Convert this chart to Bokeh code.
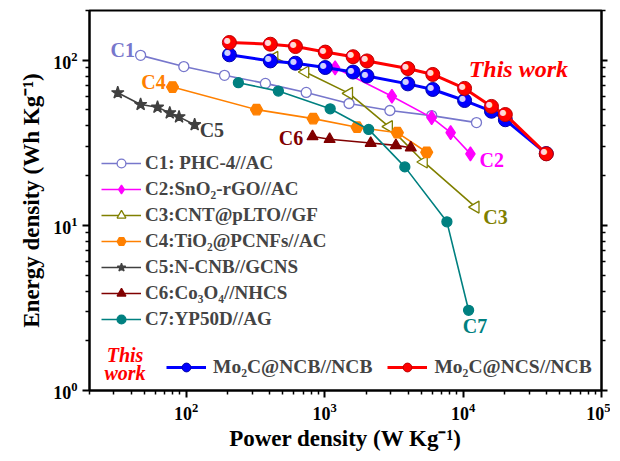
from bokeh.plotting import figure
from bokeh.models import LogAxis, Legend, LegendItem, Label, FixedTicker, ColumnDataSource
from bokeh.embed import file_html
from bokeh.resources import INLINE
from bokeh.core.properties import value
import math

# ---------------- data ----------------
c1_p = [46.8, 96, 189, 373, 736, 1500, 2960, 5930, 12500]
c1_e = [107, 91.5, 81, 72.4, 63.8, 54.7, 49.6, 46.2, 41.9]
c2_p = [1190, 3060, 5930, 8130, 11300]
c2_e = [90, 60.5, 44.9, 36.4, 27.1]
c3_p = [433, 724, 1500, 2910, 5200, 12300]
c3_e = [104, 84.9, 63, 39.6, 24.2, 12.9]
c4_p = [79.6, 322, 826, 1715, 3350, 5460]
c4_e = [68.8, 50.2, 44.3, 39.3, 36.4, 27.7]
c5_p = [32, 46.8, 62, 76, 88.7, 115]
c5_e = [63.5, 53.9, 51.9, 48, 45.4, 40.7]
c6_p = [817, 1086, 2150, 3270, 4190]
c6_e = [34.5, 33.2, 31.5, 30.5, 29.5]
c7_p = [238, 463, 1096, 2080, 3795, 7640, 10960]
c7_e = [73.1, 65, 50.8, 38.1, 22.6, 10.5, 3.06]
tw_p = [205, 405, 615, 1010, 1604, 2022, 3990, 6040, 10250, 16040, 20200, 39900]
ncb_e = [107.8, 99, 95.9, 90.3, 84.8, 80.2, 71.9, 66.5, 57, 49.1, 43.6, 27.2]
ncs_e = [128, 125, 121, 112, 105, 99, 89, 82, 67.5, 52.5, 46.9, 27.1]

series_names = ["C1: PHC-4//AC", "C2:SnO\u2082-rGO//AC", "C3:CNT@pLTO//GF",
                "C4:TiO\u2082@PCNFs//AC", "C5:N-CNB//GCNS", "C6:Co\u2083O\u2084//NHCS",
                "C7:YP50D//AG"]
this_names = ["Mo\u2082C@NCB//NCB", "Mo\u2082C@NCS//NCB"]
x_ticks = [100, 1000, 10000, 100000]
y_ticks = [1, 10, 100]

FONT = "Liberation Serif"

p = figure(width=610, height=453, x_axis_type="log", y_axis_type="log",
           x_range=(20, 1e5), y_range=(1, 200),
           output_backend="svg", toolbar_location=None,
           min_border_left=89, min_border_right=9, min_border_top=10, min_border_bottom=63)
p.xgrid.visible = False
p.ygrid.visible = False
p.outline_line_color = "black"
p.outline_line_width = 2
p.background_fill_color = "white"
p.border_fill_color = "white"

def minors(lo, hi):
    out = []
    k = lo
    while k < hi:
        for m in range(2, 10):
            out.append(m * 10 ** k)
        k += 1
    return out

xax = p.xaxis[0]
yax = p.yaxis[0]
xax.ticker = FixedTicker(ticks=x_ticks, minor_ticks=minors(1, 5))
yax.ticker = FixedTicker(ticks=y_ticks, minor_ticks=minors(0, 3))

for ax in [xax, yax]:
    ax.axis_line_width = 2
    ax.major_tick_line_width = 2
    ax.minor_tick_line_width = 1.5
    ax.major_tick_in = 0
    ax.major_tick_out = 7
    ax.minor_tick_in = 0
    ax.minor_tick_out = 4
    ax.major_label_text_font = FONT
    ax.major_label_text_font_style = "bold"
    ax.major_label_text_color = "black"
    ax.major_label_text_font_size = "18px"
    ax.major_label_standoff = 5
    ax.axis_label_text_font = FONT
    ax.axis_label_text_font_style = "bold"
    ax.axis_label_text_color = "black"
    ax.axis_label_text_font_size = "23px"
xax.axis_label = "Power density (W Kg\u207b\u00b9)"
yax.axis_label = "Energy density (Wh Kg\u207b\u00b9)"
xax.axis_label_standoff = 3
yax.axis_label_standoff = 6

right = LogAxis(ticker=FixedTicker(ticks=y_ticks, minor_ticks=minors(0, 3)),
                major_label_text_font_size="1px", major_label_text_color=None,
                major_label_standoff=0,
                axis_line_width=2, major_tick_line_width=2, minor_tick_line_width=1.5,
                major_tick_in=0, major_tick_out=6, minor_tick_in=0, minor_tick_out=4)
p.add_layout(right, "right")

colors = ["#7777cc", "#ff00ff", "#808000", "#ff8000", "#404040", "#800000", "#008080"]
xs = [c1_p, c2_p, c3_p, c4_p, c5_p, c6_p, c7_p]
ys = [c1_e, c2_e, c3_e, c4_e, c5_e, c6_e, c7_e]
markers = ["circle", "diamond", "triangle", "hex", "star", "triangle", "circle"]
sizes = [10, 14, 12, 12, 13, 11, 10]
fills = ["white", None, "white", None, None, None, None]
angles = [0, 0, math.pi / 2, 0, 0, 0, 0]

items = []
for i in range(7):
    c = colors[i]
    lr = p.line(xs[i], ys[i], line_color=c, line_width=1.6)
    fc = fills[i] if fills[i] else c
    sr = p.scatter(xs[i], ys[i], marker=markers[i], size=sizes[i], fill_color=fc,
                   line_color=c, line_width=1.3, angle=angles[i])
    items.append(LegendItem(label=series_names[i], renderers=[lr, sr]))

# this work series (spheres)
items2 = []
for e, c, dark, hl in [(ncb_e, "#0000ff", "#0000aa", "#d0d0ff"), (ncs_e, "#ff0000", "#bb0000", "#ffd8d8")]:
    lr = p.line(tw_p, e, line_color=c, line_width=3)
    sr = p.scatter(tw_p, e, marker="circle", size=14, fill_color=c, line_color=dark, line_width=1)
    src = ColumnDataSource(dict(x=tw_p, y=e, t=["\u25cf"] * len(tw_p)))
    p.text("x", "y", text="t", source=src, x_offset=-2, y_offset=-2, text_font_size="8px",
           text_color=hl, text_align="center", text_baseline="middle",
           text_font=value("DejaVu Sans"))
    items2.append((lr, sr))
items2_leg = [LegendItem(label=this_names[0], renderers=list(items2[0])),
              LegendItem(label=this_names[1], renderers=list(items2[1]))]

leg = Legend(items=items, location=(12, 60), orientation="vertical",
             label_text_font=FONT, label_text_font_style="bold", label_text_font_size="19px",
             glyph_width=40, glyph_height=22, label_height=22, spacing=4, padding=0, margin=0,
             label_standoff=4, border_line_color=None, background_fill_alpha=0)
p.add_layout(leg, "center")

leg2 = Legend(items=items2_leg, location=(77, 12), orientation="horizontal",
              label_text_font=FONT, label_text_font_style="bold", label_text_font_size="19.5px",
              glyph_width=40, glyph_height=22, label_height=22, spacing=15, padding=0, margin=0,
              label_standoff=7, border_line_color=None, background_fill_alpha=0)
p.add_layout(leg2, "center")

# in-chart labels
lab_x = [42.6, 13150, 14000, 71, 125, 700, 12200]
lab_y = [115.6, 24.9, 11.25, 73.8, 37.9, 33.8, 2.45]
lab_align = ["right", "left", "left", "right", "left", "right", "center"]
for i in range(7):
    p.add_layout(Label(x=lab_x[i], y=lab_y[i], text="C%d" % (i + 1), text_color=colors[i],
                       text_font=FONT, text_font_style="bold", text_font_size="20px",
                       text_align=lab_align[i], text_baseline="middle"))

p.add_layout(Label(x=10970, y=88, text="This work", text_color="#ff0000", text_font=FONT,
                   text_font_style="bold italic", text_font_size="24px",
                   text_align="left", text_baseline="middle"))
p.add_layout(Label(x=36.1, y=1.63, text="This", text_color="#ff0000", text_font=FONT,
                   text_font_style="bold italic", text_font_size="20px",
                   text_align="center", text_baseline="middle"))
p.add_layout(Label(x=36.1, y=1.27, text="work", text_color="#ff0000", text_font=FONT,
                   text_font_style="bold italic", text_font_size="20px",
                   text_align="center", text_baseline="middle"))

open("out.html", "w").write(file_html(p, INLINE))
